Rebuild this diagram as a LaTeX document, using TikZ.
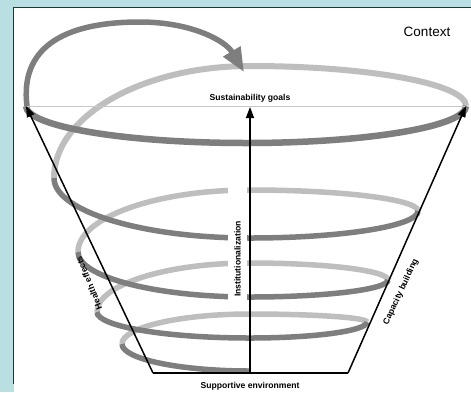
\documentclass[tikz,border=0pt]{standalone}
\usepackage{fontspec}
\setmainfont{Liberation Sans}
\usetikzlibrary{arrows.meta}

\definecolor{panelbg}{HTML}{B9DFE2}
\definecolor{frameline}{HTML}{1E3636}
\definecolor{bandfront}{HTML}{7E7E7E}
\definecolor{bandback}{HTML}{BEBEBE}
\definecolor{goalline}{HTML}{C8C8C8}

\tikzset{
  % quarter of an ellipse: from a side point (vertical tangent) to a top/bottom point (horizontal tangent)
  quarterSE/.style n args={4}{insert path={.. controls (#1,{#2+0.552*((#4)-(#2))}) and ({#3+0.552*((#1)-(#3))},#4) .. (#3,#4)}},
  % quarter of an ellipse: from a top/bottom point to a side point
  quarterES/.style n args={4}{insert path={.. controls ({#1+0.552*((#3)-(#1))},#2) and (#3,{#4+0.552*((#2)-(#4))}) .. (#3,#4)}},
  frontband/.style={draw=bandfront, line width=#1, line cap=butt},
  frontband/.default=5.5,
  backband/.style={draw=bandback, line width=#1, line cap=butt},
  backband/.default=5.5,
  axisarrow/.style={draw=black, line width=1.5, -{Triangle[length=11,width=8]}},
  label/.style={font=\bfseries\fontsize{8.6}{10}\selectfont, inner sep=1},
}

\begin{document}
\begin{tikzpicture}[x=1pt, y=-1pt]
\useasboundingbox (0,0) rectangle (471,392);

% panel and frame
\fill[panelbg] (0,0) rectangle (471,392);
\fill[white] (14,8) rectangle (471,392);
\draw[frameline, line width=1.6] (13.5,384) -- (13.5,7.5) -- (471,7.5);

% back halves of the spiral
\draw[backband=6] (466,106) [quarterSE={466}{106}{250}{66}] [quarterES={250}{66}{54}{178}];
\draw[backband] (418,211) [quarterSE={418}{211}{250}{190}] [quarterES={250}{190}{78}{252}];
\draw[backband] (388,280) [quarterSE={388}{280}{250}{263}] [quarterES={250}{263}{97}{312}];
\draw[backband] (367,322) [quarterSE={367}{322}{250}{314}] [quarterES={250}{314}{122}{344}];

% front halves of the spiral
\draw[frontband=6.5] (26,106) [quarterSE={26}{106}{246}{143}] [quarterES={246}{143}{466}{106}];
\draw[frontband] (54,178) [quarterSE={54}{178}{250}{238}] [quarterES={250}{238}{418}{211}];
\draw[frontband] (78,252) [quarterSE={78}{252}{250}{297}] [quarterES={250}{297}{388}{280}];
\draw[frontband] (97,312) [quarterSE={97}{312}{250}{338}] [quarterES={250}{338}{367}{322}];
\draw[frontband] (122,344) [quarterSE={122}{344}{250}{371}];

% feedback arrow over the top
\draw[draw=bandfront, line width=5.5, -{Triangle[length=24,width=19]}]
  (27,106) .. controls (20,50) and (60,22) .. (140,22)
           .. controls (190,22) and (225,40) .. (244,72);

% anchor points of the funnel
\coordinate (tl) at (26,106);
\coordinate (tr) at (466,106);
\coordinate (tc) at (250,107);
\coordinate (bl) at (153,373);
\coordinate (br) at (348,373);
\coordinate (bc) at (250,373);

% goal line
\draw[goalline, line width=1] (tl) -- (tr);

% white ground behind the vertical label
\fill[white] (228,184) rectangle (247,306);

% funnel
\draw[black, line width=1.5] (bl) -- (br);
\draw[axisarrow] (bl) -- (tl);
\draw[axisarrow] (br) -- (tr);
\draw[axisarrow] (bc) -- (tc);

% labels
\node[label] (goals) at (250,98) {Sustainability goals};
\node[label, rotate=90] (inst) at (237.5,259) {Institutionalization};
\node[label, rotate=112] (health) at (89,283) {Health effects};
\node[label, rotate=65] (capacity) at (401,292) {Capacity building};
\node[label] (env) at (250,386) {Supportive environment};
\node[font=\fontsize{13.5}{16}\selectfont, inner sep=0] (context) at (427,32) {Context};
\end{tikzpicture}
\end{document}
